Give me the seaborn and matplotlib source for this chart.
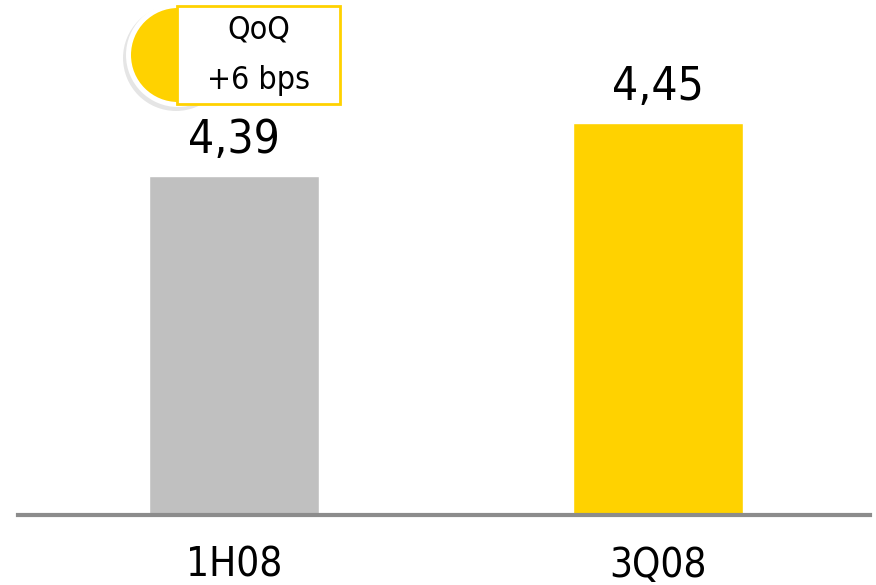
import matplotlib
matplotlib.use("Agg")
import matplotlib.pyplot as plt
from matplotlib.patches import Circle, Rectangle
import seaborn as sns
import pandas as pd

categories = ["1H08", "3Q08"]
values = [4.39, 4.45]
bar_colors = ["#c0c0c0", "#ffd200"]
badge_lines = ["QoQ", "+6 bps"]

sns.set_style("white")
plt.rcParams["font.family"] = ["DejaVu Sans"]
plt.rcParams["font.stretch"] = "condensed"
plt.rcParams["text.color"] = "black"
plt.rcParams["xtick.color"] = "black"

df = pd.DataFrame({"period": categories, "rate": values})

fig = plt.figure(figsize=(8.76, 5.85), dpi=100)
ax = fig.add_axes([18 / 876, 70 / 585, 852 / 876, 515 / 585])

sns.barplot(data=df, x="period", y="rate", hue="period", palette=bar_colors,
            width=0.4, legend=False, ax=ax, saturation=1)

ax.set_ylim(4.006, 4.589)
ax.set_xlim(-0.51, 1.5)
for s in ["top", "right", "left"]:
    ax.spines[s].set_visible(False)
ax.spines["bottom"].set_color("#8c8c8c")
ax.spines["bottom"].set_linewidth(3)
ax.set_yticks([])
ax.set_xlabel("")
ax.set_ylabel("")
ax.tick_params(axis="x", length=0, pad=22, labelsize=29, labelcolor="black")

for i, v in enumerate(values):
    ax.annotate(f"{v:.2f}".replace(".", ","), (i, v), xytext=(0, 9),
                textcoords="offset points", ha="center", va="bottom",
                fontsize=33, color="black")

# badge: yellow half-disc behind a framed text box
tr = fig.dpi_scale_trans
fig.patches.append(Circle((1.76, 5.27), 0.53, transform=tr, facecolor="#000000",
                          alpha=0.10, edgecolor="none", zorder=1))
fig.patches.append(Circle((1.78, 5.30), 0.52, transform=tr, facecolor="white",
                          edgecolor="none", zorder=2))
fig.patches.append(Circle((1.78, 5.30), 0.47, transform=tr, facecolor="#ffd200",
                          edgecolor="none", zorder=3))
fig.patches.append(Rectangle((1.77, 4.81), 1.63, 0.98, transform=tr, facecolor="white",
                             edgecolor="#ffd200", linewidth=2, zorder=4))
fig.text(2.585 / 8.76, (5.85 - 0.30) / 5.85, badge_lines[0], ha="center", va="center",
         fontsize=23, zorder=5, color="black")
fig.text(2.585 / 8.76, (5.85 - 0.80) / 5.85, badge_lines[1], ha="center", va="center",
         fontsize=23, zorder=5, color="black")

fig.savefig("out.png", dpi=100)
